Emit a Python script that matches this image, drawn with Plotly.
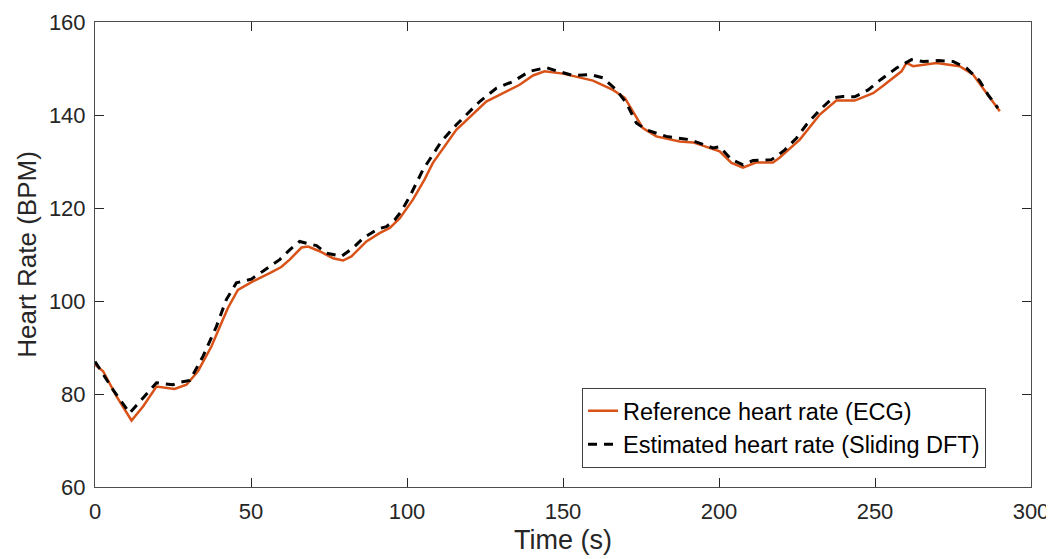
import plotly.graph_objects as go

# Reference heart rate (ECG)
ref_time = [0, 2.6, 6.9, 11.7, 15.4, 19.7, 25.5, 29.3, 33, 37.3, 41, 42.6, 45.8, 50.6, 56,
            59.7, 62.4, 66.2, 68.3, 72, 76.3, 79.5, 82.2, 87, 91.2, 94.5, 97.7, 101.9, 105.6,
            108.3, 115.8, 125.4, 136.1, 140.4, 144.1, 150, 159.6, 166, 169.8, 175.6, 179.9,
            187.4, 191.7, 200.2, 204, 207.7, 212, 217.3, 219.4, 225.9, 232.3, 237.6, 243.5,
            249.4, 252.6, 258.5, 260.1, 262.2, 269.7, 277.1, 281.4, 285.7, 290]
ref_bpm = [86.3, 84.9, 79.5, 74.3, 77.3, 81.6, 81.1, 82.0, 84.9, 90.2, 96, 98.5, 102.4, 104.2,
           106, 107.3, 108.9, 111.5, 111.7, 110.7, 109.2, 108.7, 109.6, 112.8, 114.6, 115.7,
           117.8, 121.8, 126.1, 129.7, 136.8, 142.9, 146.5, 148.5, 149.4, 148.9, 147.4, 145.4,
           143.7, 137.2, 135.4, 134.3, 134.1, 132.2, 129.7, 128.7, 129.8, 129.8, 130.8, 134.7,
           140.1, 143.1, 143.1, 144.7, 146.3, 149.4, 151.2, 150.5, 151.2, 150.5, 148.7, 144.7,
           140.8]

# Estimated heart rate (Sliding DFT)
est_time = [0, 5.8, 11.1, 15.9, 19.7, 25, 27.1, 30.4, 34.6, 38.9, 42.1, 45.3, 50.1, 53.8,
            59.2, 62.4, 65.6, 71, 74.2, 79, 82.7, 85.9, 90.7, 93.4, 96.1, 98.2, 100.9, 105.1,
            111, 115.8, 120.1, 123.3, 128.7, 134, 139.3, 144.7, 147.9, 153.2, 158.6, 162.8,
            167.1, 170.3, 173.5, 176.7, 183.1, 190.6, 198.1, 200.2, 204, 207.7, 210.9, 216.8,
            218.4, 221.1, 224.8, 228, 232.3, 236.5, 239.7, 243.5, 247.8, 252, 256.9, 261.7,
            265.4, 270.2, 275, 279.3, 283.5, 286.2, 289.4]
est_bpm = [87.0, 80.9, 75.9, 79.5, 82.4, 82, 82.5, 82.9, 88.1, 94.5, 100.3, 103.9, 104.7,
           106.4, 108.9, 111, 112.8, 111.9, 110.3, 109.6, 111.4, 113.5, 115.5, 116, 117.5,
           119.3, 122.5, 128.2, 134.3, 137.9, 140.8, 142.9, 145.8, 147.2, 149.4, 150.2, 149.5,
           148.5, 148.7, 148, 145.4, 142.6, 138.3, 136.8, 135.4, 134.7, 132.9, 133.2, 130.4,
           129.3, 130.2, 130.4, 131.1, 132.5, 135, 137.9, 141.1, 143.7, 144, 143.9, 145.4,
           147.7, 150.1, 151.9, 151.5, 151.7, 151.5, 150.1, 147.4, 144.4, 141.5]

x_ticks = [0, 50, 100, 150, 200, 250, 300]
y_ticks = [60, 80, 100, 120, 140, 160]

FONT = "Liberation Sans, Arial, sans-serif"
TEXT_COLOR = "#262626"

fig = go.Figure()
fig.add_trace(
    go.Scatter(
        x=ref_time,
        y=ref_bpm,
        mode="lines",
        name="Reference heart rate (ECG)",
        line={"color": "#D95319", "width": 2.5},
    )
)
fig.add_trace(
    go.Scatter(
        x=est_time,
        y=est_bpm,
        mode="lines",
        name="Estimated heart rate (Sliding DFT)",
        line={"color": "black", "width": 3, "dash": "9px,7px"},
    )
)

axis_common = dict(
    showgrid=False,
    zeroline=False,
    showline=True,
    linecolor="#4d4d4d",
    linewidth=1,
    mirror="allticks",
    ticks="inside",
    ticklen=9,
    tickcolor=TEXT_COLOR,
    automargin=False,
    tickfont={"size": 22, "color": TEXT_COLOR, "family": FONT},
)

fig.update_xaxes(
    range=[0, 300],
    tickvals=x_ticks,
    ticklabelstandoff=5,
    title={"text": "Time (s)", "font": {"size": 27, "color": TEXT_COLOR, "family": FONT}, "standoff": 6},
    **axis_common,
)
fig.update_yaxes(
    range=[60, 160],
    tickvals=y_ticks,
    ticklabelstandoff=4,
    title={"text": "Heart Rate (BPM)", "font": {"size": 26, "color": TEXT_COLOR, "family": FONT}, "standoff": 4},
    **axis_common,
)

# the page body adds an 8px margin, so the figure is 8px smaller on each side
fig.update_layout(
    width=1046,
    height=551,
    margin={"l": 87, "r": 23, "t": 14, "b": 72},
    plot_bgcolor="white",
    paper_bgcolor="white",
    font={"family": FONT, "color": TEXT_COLOR},
    showlegend=True,
    legend={
        "x": 0.5203,
        "y": 0.213,
        "xanchor": "left",
        "yanchor": "top",
        "bgcolor": "white",
        "bordercolor": "#404040",
        "borderwidth": 1,
        "font": {"size": 23.5, "color": "black", "family": FONT},
        "itemwidth": 30,
        "tracegroupgap": 0,
    },
)

fig.write_html("out.html")
